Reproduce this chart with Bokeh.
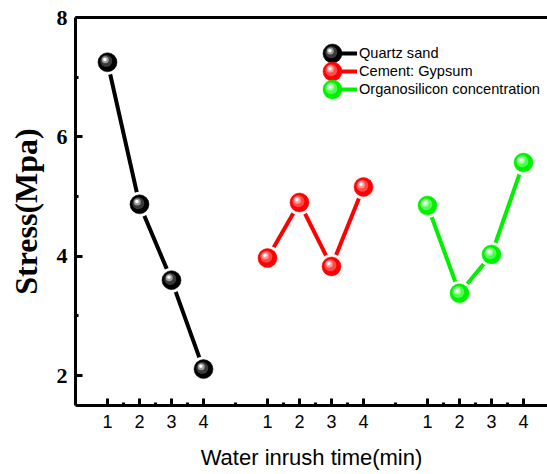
from bokeh.plotting import figure
from bokeh.models import FixedTicker, LinearAxis, Range1d, Legend, LegendItem, ColumnDataSource
from bokeh.transform import dodge
from bokeh.embed import file_html
from bokeh.resources import INLINE

# ---- data ----
quartz_x = [1, 2, 3, 4]
quartz_y = [7.25, 4.87, 3.60, 2.11]
cement_x = [6, 7, 8, 9]
cement_y = [3.97, 4.90, 3.83, 5.16]
organo_x = [11, 12, 13, 14]
organo_y = [4.85, 3.38, 4.03, 5.57]

series_names = ["Quartz sand", "Cement: Gypsum", "Organosilicon concentration"]
x_major_ticks = [1, 2, 3, 4, 6, 7, 8, 9, 11, 12, 13, 14]
x_tick_labels = ["1", "2", "3", "4", "1", "2", "3", "4", "1", "2", "3", "4"]
x_minor_ticks = [1.5, 2.5, 3.5, 5, 6.5, 7.5, 8.5, 10, 11.5, 12.5, 13.5]
y_major_ticks = [2, 4, 6, 8]
y_minor_ticks = [3, 5, 7]

FRAME_W, FRAME_H = 472, 388

p = figure(width=547, height=474, x_range=Range1d(0, 14.75), y_range=Range1d(1.5, 8),
           output_backend="svg", toolbar_location=None,
           min_border_left=75, min_border_top=17, min_border_right=0, min_border_bottom=69)
p.extra_x_ranges = {"px": Range1d(0, FRAME_W)}
p.extra_y_ranges = {"px": Range1d(0, FRAME_H)}
p.outline_line_color = None
p.xgrid.visible = False
p.ygrid.visible = False
p.background_fill_color = "white"
p.border_fill_color = "white"

# x axis
xa = p.xaxis[0]
xa.ticker = FixedTicker(ticks=x_major_ticks, minor_ticks=x_minor_ticks)
xa.major_label_overrides = {t: l for t, l in zip(x_major_ticks, x_tick_labels)}
xa.axis_line_width = 3
xa.axis_line_color = "black"
xa.major_tick_line_color = "black"
xa.minor_tick_line_color = "black"
xa.major_tick_in = 7
xa.major_tick_out = 0
xa.minor_tick_in = 3
xa.minor_tick_out = 0
xa.major_tick_line_width = 3
xa.minor_tick_line_width = 3
xa.major_label_standoff = 9
xa.major_label_text_font = "Liberation Sans"
xa.major_label_text_font_size = "18px"
xa.major_label_text_color = "black"
xa.axis_label = "Water inrush time(min)"
xa.axis_label_text_font = "Liberation Sans"
xa.axis_label_text_font_style = "normal"
xa.axis_label_text_font_size = "22px"
xa.axis_label_text_color = "black"
xa.axis_label_standoff = 14

# y axis
ya = p.yaxis[0]
ya.ticker = FixedTicker(ticks=y_major_ticks, minor_ticks=y_minor_ticks)
ya.axis_line_width = 3
ya.axis_line_color = "black"
ya.major_tick_line_color = "black"
ya.minor_tick_line_color = "black"
ya.major_tick_in = 7
ya.major_tick_out = 0
ya.minor_tick_in = 3
ya.minor_tick_out = 0
ya.major_tick_line_width = 3
ya.minor_tick_line_width = 3
ya.major_label_standoff = 8
ya.major_label_text_font = "Liberation Serif"
ya.major_label_text_font_style = "bold"
ya.major_label_text_font_size = "22px"
ya.major_label_text_color = "black"
ya.axis_label = "Stress(Mpa)"
ya.axis_label_text_font = "Liberation Serif"
ya.axis_label_text_font_style = "bold"
ya.axis_label_text_font_size = "32px"
ya.axis_label_text_color = "black"
ya.axis_label_standoff = 10

# top spine
top = LinearAxis(ticker=FixedTicker(ticks=[]), axis_line_width=3, axis_line_color="black",
                 major_tick_in=0, major_tick_out=0, minor_tick_in=0, minor_tick_out=0,
                 major_label_standoff=0)
p.add_layout(top, "above")

xs = [quartz_x, cement_x, organo_x]
ys = [quartz_y, cement_y, organo_y]
base_cols = ["#000000", "#ff0000", "#00f000"]
mid_cols = ["#3a3a3a", "#ff4a4a", "#4cff4c"]
light_cols = ["#9a9a9a", "#ff9c9c", "#a8ffa8"]

px_x = 14.75 / FRAME_W
px_y = 6.5 / FRAME_H


def spheres(src, c0, c1, c2, ux, uy, **kw):
    p.scatter("x", "y", source=src, size=19, fill_color=c0, line_color=c0, line_width=0.5, **kw)
    p.scatter(x=dodge("x", -1.2 * ux), y=dodge("y", 1.2 * uy), source=src,
              size=12, fill_color=c1, line_color=None, **kw)
    p.scatter(x=dodge("x", -2.2 * ux), y=dodge("y", 2.4 * uy), source=src,
              size=7, fill_color=c2, line_color=None, **kw)
    p.scatter(x=dodge("x", -2.6 * ux), y=dodge("y", 2.8 * uy), source=src,
              size=3.5, fill_color="white", line_color=None, **kw)


# legend marker layout (frame pixel coordinates)
leg_sphere_x = 257
leg_row_y = [352, 334, 316]

items = []
for i, (name, xv, yv, c0, c1, c2) in enumerate(zip(series_names, xs, ys, base_cols, mid_cols, light_cols)):
    src = ColumnDataSource(dict(x=xv, y=yv))
    ln = p.line("x", "y", source=src, line_color=c0, line_width=4)
    # gap around markers
    p.scatter("x", "y", source=src, size=25, fill_color="white", line_color=None)
    spheres(src, c0, c1, c2, px_x, px_y)
    items.append(LegendItem(label=name, renderers=[ln]))
    lsrc = ColumnDataSource(dict(x=[leg_sphere_x], y=[leg_row_y[i]]))
    spheres(lsrc, c0, c1, c2, 1.0, 1.0, x_range_name="px", y_range_name="px")

leg = Legend(items=items, location=(265, 307))
leg.border_line_color = None
leg.background_fill_alpha = 0
leg.label_text_font = "Liberation Sans"
leg.label_text_font_size = "14.6px"
leg.label_text_color = "black"
leg.label_standoff = 2
leg.glyph_width = 17
leg.glyph_height = 18
leg.spacing = 0
leg.padding = 0
leg.margin = 0
leg.label_height = 18
p.add_layout(leg)

open("out.html", "w").write(file_html(p, INLINE))
